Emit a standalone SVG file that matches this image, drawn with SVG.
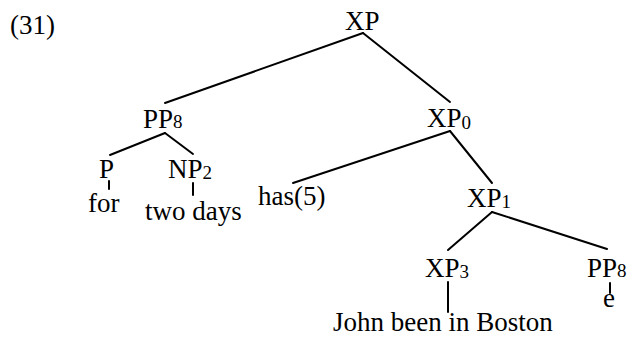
<svg xmlns="http://www.w3.org/2000/svg" width="629" height="337" viewBox="0 0 629 337">
<style>
text{font-family:'Liberation Serif','DejaVu Serif',serif;font-size:27px;fill:#000}
.sub{font-size:19px}
.edge{stroke:#000;stroke-width:2;fill:none;stroke-linecap:round}
</style>
<rect width="629" height="337" fill="#fff"/>
<text x="10" y="34" font-size="25">(31)</text>
<g id="connectors">
<line class="edge" x1="363" y1="33" x2="165" y2="103"/>
<line class="edge" x1="363" y1="33" x2="450" y2="102"/>
<line class="edge" x1="165" y1="133" x2="110" y2="155"/>
<line class="edge" x1="165" y1="133" x2="193" y2="154"/>
<line class="edge" x1="109" y1="181" x2="109" y2="189"/>
<line class="edge" x1="193" y1="183" x2="193" y2="195"/>
<line class="edge" x1="450" y1="131" x2="293" y2="183"/>
<line class="edge" x1="450" y1="131" x2="492" y2="183"/>
<line class="edge" x1="492" y1="212" x2="448" y2="250"/>
<line class="edge" x1="492" y1="212" x2="607" y2="249"/>
<line class="edge" x1="448" y1="282" x2="448" y2="312"/>
<line class="edge" x1="610" y1="283" x2="610" y2="293"/>
</g>
<g id="XP"><text x="345" y="30">XP</text></g>
<g id="PP8-left"><text x="143" y="128">PP<tspan class="sub">8</tspan></text></g>
<g id="XP0"><text x="427" y="127">XP<tspan class="sub" dy="2">0</tspan></text></g>
<g id="P"><text x="99" y="178">P</text><text x="88" y="212">for</text></g>
<g id="NP2"><text x="168" y="178">NP<tspan class="sub" dy="1">2</tspan></text><text x="145" y="220">two days</text></g>
<g id="has5"><text x="258" y="205">has(5)</text></g>
<g id="XP1"><text x="467" y="207">XP<tspan class="sub" dy="1">1</tspan></text></g>
<g id="XP3"><text x="425" y="277">XP<tspan class="sub" dy="1">3</tspan></text><text x="333" y="331">John been in Boston</text></g>
<g id="PP8-right"><text x="587" y="277">PP<tspan class="sub">8</tspan></text><text x="603" y="307">e</text></g>
</svg>
